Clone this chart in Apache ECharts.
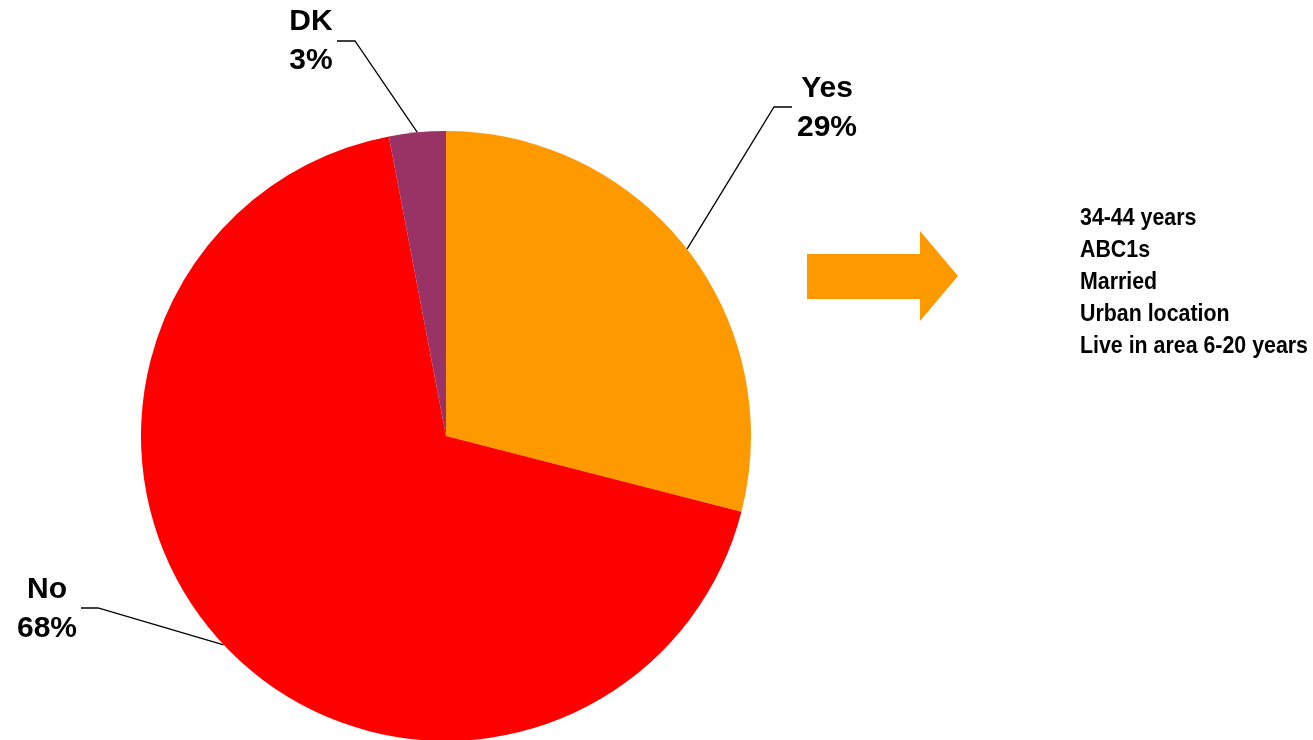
<!DOCTYPE html>
<html>
<head>
<meta charset="utf-8">
<style>
  html, body { margin: 0; padding: 0; background: #ffffff; }
  #chart { width: 1313px; height: 740px; }
</style>
<script src="https://cdn.jsdelivr.net/npm/echarts@6/dist/echarts.min.js"></script>
</head>
<body>
<div id="chart"></div>
<script>
// Answer categories and their shares (%)
const categories = ['Yes', 'No', 'DK'];
const shares = [29, 68, 3];
const sliceColors = ['#FF9900', '#FF0000', '#993366'];

// Profile of the "Yes" group
const profileLines = ['34-44 years', 'ABC1s', 'Married', 'Urban location', 'Live in area 6-20 years'];

// Label placement: block centre, leader bend point and leader end point
const labelPlacement = {
  Yes: { x: 827, y: 108, bend: [774, 107], end: [792, 107] },
  No:  { x: 47,  y: 609, bend: [98, 608],  end: [81, 608] },
  DK:  { x: 311, y: 41,  bend: [355, 41],  end: [337, 41] }
};

const chart = echarts.init(document.getElementById('chart'), null, { renderer: 'canvas' });

const pieData = categories.map((name, i) => ({
  name: name,
  value: shares[i],
  itemStyle: { color: sliceColors[i] }
}));

chart.setOption({
  animation: false,
  backgroundColor: '#ffffff',
  series: [{
    type: 'pie',
    center: [446, 436],
    radius: [0, 305],
    startAngle: 90,
    clockwise: true,
    data: pieData,
    label: {
      show: true,
      formatter: '{b}\n{d}%',
      fontFamily: '"Liberation Sans", Arial, sans-serif',
      fontWeight: 'bold',
      fontSize: 30,
      lineHeight: 39,
      color: '#000000',
      align: 'center'
    },
    labelLine: {
      show: true,
      length: 20,
      length2: 20,
      smooth: false,
      lineStyle: { color: '#000000', width: 1.3 }
    },
    labelLayout: function (params) {
      const name = categories[params.dataIndex];
      const p = labelPlacement[name];
      const start = params.labelLinePoints ? params.labelLinePoints[0] : [p.bend[0], p.bend[1]];
      return {
        x: p.x,
        y: p.y,
        align: 'center',
        verticalAlign: 'middle',
        labelLinePoints: [start, p.bend, p.end]
      };
    },
    emphasis: { disabled: true }
  }],
  graphic: [
    {
      type: 'polygon',
      shape: {
        points: [[807, 254], [920, 254], [920, 231], [958, 276], [920, 321], [920, 299], [807, 299]]
      },
      style: { fill: '#FF9900' }
    },
    {
      type: 'group',
      x: 1080,
      y: 206,
      scaleX: 0.89,
      children: profileLines.map((line, i) => ({
        type: 'text',
        x: 0,
        y: i * 32,
        style: {
          text: line,
          font: 'bold 24px "Liberation Sans", Arial, sans-serif',
          fill: '#000000'
        }
      }))
    }
  ]
});
</script>
</body>
</html>
